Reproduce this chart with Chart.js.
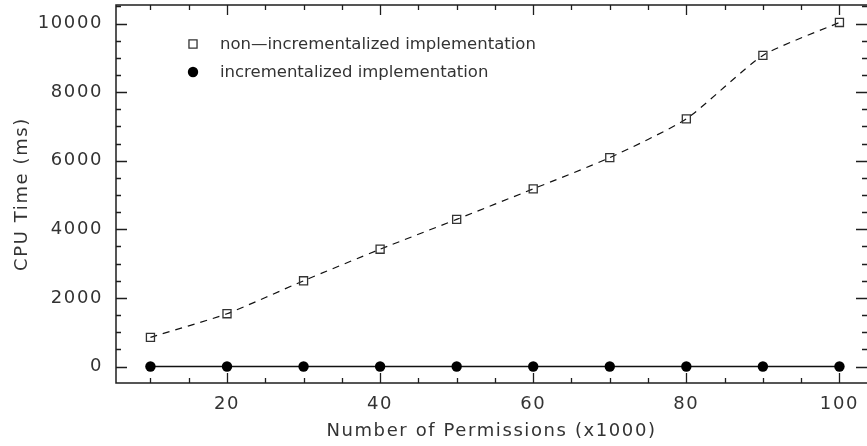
<!DOCTYPE html>
<html>
<head>
<meta charset="utf-8">
<script src="https://cdn.jsdelivr.net/npm/chart.js@4.4.1/dist/chart.umd.min.js"></script>
<style>
  html, body { margin: 0; padding: 0; background: #fff; overflow: hidden; }
  canvas { display: block; }
</style>
</head>
<body>
<canvas id="c" width="867" height="446"></canvas>
<script>
// Number of permissions (x1000)
const permissions = [10, 20, 30, 40, 50, 60, 70, 80, 90, 100];
// CPU time (ms) of each implementation
const nonIncrementalMs = [850, 1540, 2500, 3420, 4290, 5180, 6090, 7220, 9070, 10030];
const incrementalMs = [0, 0, 0, 0, 0, 0, 0, 0, 0, 0];
// Labelled tick values
const xTickLabels = [20, 40, 60, 80, 100];
const yTickLabels = [0, 2000, 4000, 6000, 8000, 10000];
// Minor tick spacing along the frame
const xMinorStep = 5;
const yMinorStep = 500;

const INK = '#1e1e1e';
const TEXT = '#333333';
const FAMILY = '"DejaVu Sans", sans-serif';
const AXIS_FONT = { family: FAMILY, size: 18, weight: 'normal' };
const LEGEND_FONT = `normal 16.5px ${FAMILY}`;
const AXIS_SPACING = '1.6px';

function noPadding(s) {
  s.paddingTop = 0; s.paddingBottom = 0; s.paddingLeft = 0; s.paddingRight = 0;
}

// Frame with inward tick marks on all four sides, plus the in-plot legend
const framePlugin = {
  id: 'frame',
  beforeDraw(chart) { chart.ctx.letterSpacing = AXIS_SPACING; },
  afterDatasetsDraw(chart) {
    const { ctx, chartArea: a, scales: { x, y } } = chart;
    ctx.save();
    ctx.strokeStyle = INK;
    ctx.lineWidth = 1.5;
    // right edge of the frame sits just past the canvas border
    ctx.strokeRect(a.left, a.top, a.right + 1.5 - a.left, a.bottom - a.top);
    ctx.lineWidth = 1.3;
    ctx.beginPath();
    const x0 = Math.ceil(x.min / xMinorStep) * xMinorStep;
    for (let v = x0; v <= x.max; v += xMinorStep) {
      const px = Math.round(x.getPixelForValue(v)) + 0.5;
      const len = xTickLabels.includes(v) ? 10 : 5;
      ctx.moveTo(px, a.bottom); ctx.lineTo(px, a.bottom - len);
      ctx.moveTo(px, a.top); ctx.lineTo(px, a.top + len);
    }
    const y0 = Math.ceil(y.min / yMinorStep) * yMinorStep;
    for (let v = y0; v <= y.max; v += yMinorStep) {
      const py = Math.round(y.getPixelForValue(v)) + 0.5;
      const len = yTickLabels.includes(v) ? 11 : 5;
      ctx.moveTo(a.left, py); ctx.lineTo(a.left + len, py);
      ctx.moveTo(a.right, py); ctx.lineTo(a.right - len, py);
    }
    ctx.stroke();
    ctx.restore();
  },
  afterDraw(chart) {
    const { ctx, chartArea: a } = chart;
    chart.data.datasets.forEach((ds, i) => {
      const cy = a.top + 39 + i * 28;
      const cx = a.left + 77;
      ctx.save();
      ctx.fillStyle = ds.pointBackgroundColor;
      ctx.strokeStyle = ds.pointBorderColor;
      ctx.lineWidth = ds.pointBorderWidth;
      Chart.helpers.drawPoint(ctx, {
        pointStyle: ds.pointStyle,
        radius: ds.pointRadius,
        borderWidth: ds.pointBorderWidth
      }, cx, cy);
      ctx.letterSpacing = '0px';
      ctx.font = LEGEND_FONT;
      ctx.textBaseline = 'middle';
      ctx.fillStyle = TEXT;
      ctx.fillText(ds.label, a.left + 104, cy + 1);
      ctx.restore();
    });
  }
};

new Chart(document.getElementById('c'), {
  type: 'line',
  data: {
    labels: permissions,
    datasets: [
      {
        label: 'non\u2014incrementalized implementation',
        data: permissions.map((p, i) => ({ x: p, y: nonIncrementalMs[i] })),
        borderColor: '#111',
        borderWidth: 1.2,
        borderDash: [7, 6],
        tension: 0.2,
        pointStyle: 'rect',
        pointRadius: 5.7,
        pointBorderWidth: 1.3,
        pointBorderColor: '#333',
        pointBackgroundColor: 'rgba(0,0,0,0)'
      },
      {
        label: 'incrementalized implementation',
        data: permissions.map((p, i) => ({ x: p, y: incrementalMs[i] })),
        borderColor: '#111',
        borderWidth: 1.5,
        pointStyle: 'circle',
        pointRadius: 5.2,
        pointBorderWidth: 0,
        pointBorderColor: '#000',
        pointBackgroundColor: '#000'
      }
    ]
  },
  options: {
    responsive: false,
    maintainAspectRatio: false,
    animation: false,
    devicePixelRatio: 1,
    layout: { autoPadding: false, padding: { top: 5, right: 0, left: 0, bottom: 0 } },
    plugins: { legend: { display: false }, tooltip: { enabled: false } },
    scales: {
      x: {
        type: 'linear',
        min: 5.5,
        max: 103.6,
        grid: { display: false, drawTicks: false },
        border: { display: false },
        afterBuildTicks(s) { s.ticks = xTickLabels.map(v => ({ value: v })); },
        afterFit(s) { s.height = 63; noPadding(s); },
        ticks: { color: TEXT, font: AXIS_FONT, padding: 11, maxRotation: 0, callback: v => String(v) },
        title: {
          display: true,
          text: 'Number of Permissions (x1000)',
          color: TEXT,
          font: AXIS_FONT,
          padding: { top: 0, bottom: 4 }
        }
      },
      y: {
        type: 'linear',
        min: -480,
        max: 10540,
        grid: { display: false, drawTicks: false },
        border: { display: false },
        afterBuildTicks(s) { s.ticks = yTickLabels.map(v => ({ value: v })); },
        afterFit(s) { s.width = 116; noPadding(s); },
        ticks: { color: TEXT, font: AXIS_FONT, padding: 13, callback: v => String(v) },
        title: {
          display: true,
          text: 'CPU Time (ms)',
          color: TEXT,
          font: AXIS_FONT,
          padding: { top: 12, bottom: 0 }
        }
      }
    }
  },
  plugins: [framePlugin]
});
</script>
</body>
</html>
